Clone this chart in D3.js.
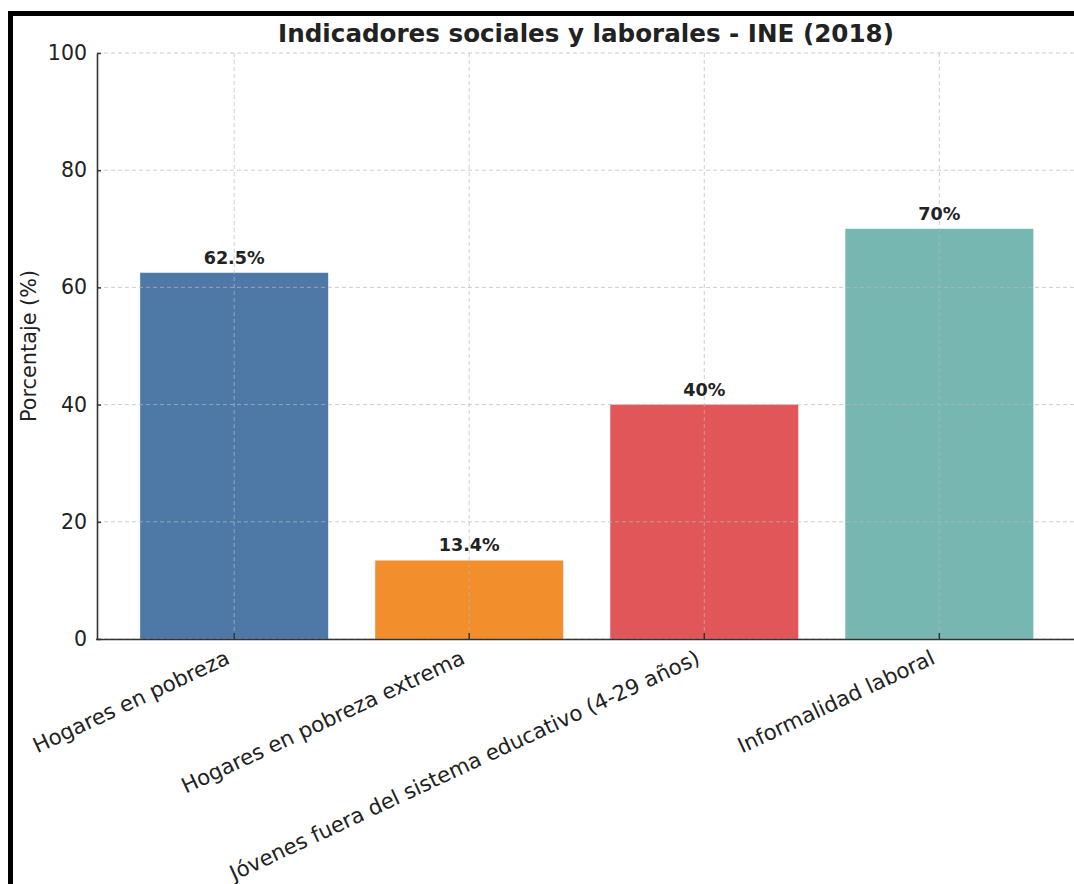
<!DOCTYPE html>
<html><head><meta charset="utf-8">
<script src="https://cdn.jsdelivr.net/npm/d3@7"></script>
<style>
html,body{margin:0;padding:0;background:#fff;}
text{font-family:"DejaVu Sans",sans-serif;}
</style></head>
<body>
<svg id="chart" width="1074" height="884"></svg>
<script>
const categories = ["Hogares en pobreza","Hogares en pobreza extrema","Jóvenes fuera del sistema educativo (4-29 años)","Informalidad laboral"];
const values = [62.5, 13.4, 40, 70];
const valueLabels = ["62.5%","13.4%","40%","70%"];
const colors = ["#4E79A7","#F28E2B","#E15759","#76B7B2"];
const yTicks = [0,20,40,60,80,100];
const title = "Indicadores sociales y laborales - INE (2018)";
const yLabel = "Porcentaje (%)";

const svg = d3.select("#chart");
// frame (screenshot border)
svg.append("rect").attr("x",8).attr("y",11).attr("width",1074).attr("height",5).attr("fill","#000");
svg.append("rect").attr("x",8).attr("y",11).attr("width",5).attr("height",884).attr("fill","#000");

const pLeft = 97, pRight = 1078, pTop = 53, pBottom = 639;
const x = d3.scaleBand().domain(categories).range([pLeft-1.5, pRight]).paddingInner(0.2).paddingOuter(0.19);
const y = d3.scaleLinear().domain([0,100]).range([pBottom, pTop]);

// bars
svg.append("g").selectAll("rect").data(values).join("rect")
  .attr("x",(d,i)=>x(categories[i]))
  .attr("width",x.bandwidth())
  .attr("y",d=>y(d))
  .attr("height",d=>y(0)-y(d))
  .attr("fill",(d,i)=>colors[i]);

// grid
const grid = svg.append("g").attr("stroke","#b8b8b8").attr("stroke-opacity",0.7).attr("stroke-dasharray","4,3").attr("stroke-width",1);
grid.selectAll("line.h").data(yTicks).join("line").attr("class","h")
  .attr("x1",pLeft).attr("x2",1074).attr("y1",d=>y(d)).attr("y2",d=>y(d));
grid.selectAll("line.v").data(categories).join("line").attr("class","v")
  .attr("x1",d=>x(d)+x.bandwidth()/2).attr("x2",d=>x(d)+x.bandwidth()/2).attr("y1",pTop).attr("y2",pBottom);

// y axis
const yAxis = svg.append("g").attr("transform",`translate(${pLeft},0)`)
  .call(d3.axisLeft(y).tickValues(yTicks).tickSizeInner(-4).tickSizeOuter(0).tickPadding(10));
yAxis.select(".domain").attr("stroke","#333").attr("stroke-width",1.6);
yAxis.selectAll(".tick line").attr("stroke","#333").attr("stroke-width",1.5);
yAxis.selectAll(".tick text").attr("font-size",20.5).attr("fill","#222").attr("font-family","DejaVu Sans");

// x axis
const xAxis = svg.append("g").attr("transform",`translate(0,${pBottom})`)
  .call(d3.axisBottom(x).tickSizeInner(-6).tickSizeOuter(0).tickPadding(0));
xAxis.select(".domain").attr("stroke","#333").attr("stroke-width",1.6);
xAxis.selectAll(".tick line").attr("stroke","#333").attr("stroke-width",1.5);
xAxis.selectAll(".tick text").attr("font-size",21.3).attr("fill","#222").attr("font-family","DejaVu Sans")
  .attr("text-anchor","end").attr("dy",0).attr("y",0)
  .attr("transform","translate(-3,24) rotate(-25)");

// value labels
svg.append("g").selectAll("text").data(values).join("text")
  .attr("x",(d,i)=>x(categories[i])+x.bandwidth()/2)
  .attr("y",d=>y(d)-9)
  .attr("text-anchor","middle").attr("font-size",17.6).attr("font-weight","bold").attr("fill","#222")
  .text((d,i)=>valueLabels[i]);

// title
svg.append("text").attr("x",586).attr("y",42).attr("text-anchor","middle")
  .attr("font-size",24.6).attr("font-weight","bold").attr("fill","#222").text(title);

// y label
svg.append("text").attr("transform",`translate(36,346) rotate(-90)`).attr("text-anchor","middle")
  .attr("font-size",20.8).attr("fill","#222").text(yLabel);
</script>
</body></html>
